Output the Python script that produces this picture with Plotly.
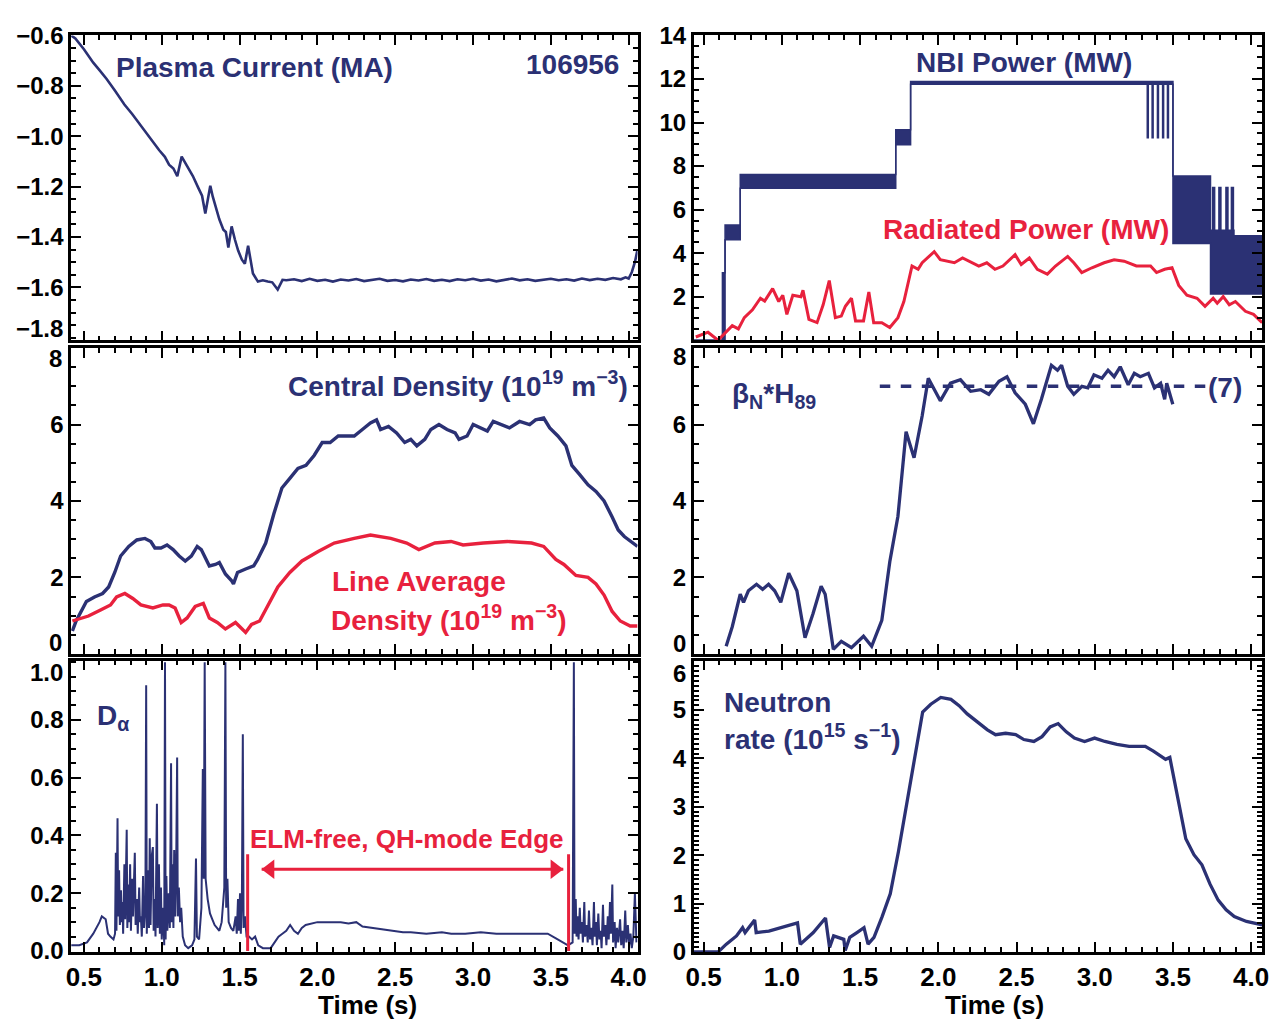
import plotly.graph_objects as go

# ---------------- data ----------------
shot_number = "106956"

# Plasma current (MA)
ip_time = [0.418, 0.445, 0.50, 0.56, 0.60, 0.646, 0.70, 0.76, 0.81, 0.857, 0.92, 0.984, 1.02, 1.047,
           1.075, 1.100, 1.128, 1.145, 1.164, 1.20, 1.235, 1.259, 1.280, 1.295, 1.312, 1.328, 1.343,
           1.370, 1.396, 1.412, 1.428, 1.449, 1.470, 1.491, 1.515, 1.534, 1.555, 1.570, 1.586, 1.618,
           1.650, 1.681, 1.71, 1.745, 1.776, 1.80, 1.85, 1.90, 1.95, 2.00, 2.05, 2.10, 2.15, 2.20,
           2.25, 2.30, 2.35, 2.40, 2.45, 2.50, 2.55, 2.60, 2.65, 2.70, 2.75, 2.80, 2.85, 2.90, 2.95,
           3.00, 3.05, 3.10, 3.15, 3.20, 3.25, 3.30, 3.35, 3.40, 3.45, 3.50, 3.55, 3.60, 3.65, 3.70,
           3.75, 3.80, 3.85, 3.90, 3.95, 3.98, 4.00, 4.02, 4.04, 4.057]
ip_MA = [-0.600, -0.612, -0.655, -0.708, -0.738, -0.773, -0.820, -0.874, -0.912, -0.952, -1.006,
         -1.056, -1.082, -1.113, -1.128, -1.159, -1.081, -1.100, -1.122, -1.158, -1.205, -1.236,
         -1.307, -1.250, -1.197, -1.240, -1.274, -1.330, -1.371, -1.380, -1.442, -1.358, -1.410,
         -1.454, -1.490, -1.506, -1.435, -1.490, -1.545, -1.577, -1.572, -1.577, -1.580, -1.609,
         -1.570, -1.572, -1.568, -1.575, -1.566, -1.574, -1.570, -1.577, -1.569, -1.573, -1.567,
         -1.575, -1.570, -1.566, -1.574, -1.571, -1.576, -1.569, -1.573, -1.567, -1.574, -1.570,
         -1.575, -1.568, -1.572, -1.566, -1.573, -1.569, -1.576, -1.570, -1.565, -1.572, -1.568,
         -1.574, -1.570, -1.566, -1.572, -1.568, -1.573, -1.565, -1.571, -1.566, -1.570, -1.563,
         -1.568, -1.560, -1.565, -1.540, -1.500, -1.450]

# NBI power (MW): step segments, lower / upper edge of the modulation band
nbi_time = [0.437, 0.620, 0.637, 0.734, 1.728, 1.823, 3.500, 3.740, 3.890, 4.070]
nbi_low = [0.0, 0.0, 4.62, 6.98, 8.98, 11.76, 4.45, 2.12, 2.12, 2.12]
nbi_high = [0.0, 3.1, 5.29, 7.61, 9.67, 11.88, 7.55, 5.05, 4.80, 4.80]
nbi_dip_time = [3.339, 3.370, 3.404, 3.437, 3.468]
nbi_dip_low, nbi_dip_high = 9.27, 11.82
nbi_spike_time = [3.760, 3.800, 3.845, 3.880]
nbi_spike_low, nbi_spike_high = 5.05, 7.05

# Radiated power (MW)
prad_time = [0.450, 0.528, 0.592, 0.631, 0.683, 0.722, 0.760, 0.812, 0.863, 0.890, 0.941, 0.980,
             1.006, 1.032, 1.070, 1.122, 1.135, 1.173, 1.225, 1.264, 1.303, 1.342, 1.380, 1.406,
             1.445, 1.471, 1.522, 1.556, 1.587, 1.639, 1.690, 1.742, 1.780, 1.832, 1.871, 1.897,
             1.974, 2.013, 2.103, 2.155, 2.259, 2.310, 2.362, 2.413, 2.491, 2.530, 2.582, 2.633,
             2.697, 2.749, 2.827, 2.866, 2.917, 2.982, 3.060, 3.124, 3.188, 3.266, 3.357, 3.395,
             3.447, 3.494, 3.537, 3.589, 3.654, 3.705, 3.757, 3.783, 3.821, 3.860, 3.899, 3.963,
             4.015, 4.070]
prad_MW = [0.15, 0.37, 0.00, 0.30, 0.67, 0.52, 1.04, 1.40, 1.93, 1.80, 2.37, 1.78, 2.07, 1.19,
           2.07, 2.00, 2.30, 0.96, 0.81, 1.63, 2.74, 1.04, 1.11, 1.56, 1.93, 0.89, 0.89, 2.22,
           0.81, 0.81, 0.59, 1.04, 1.78, 3.41, 3.26, 3.56, 4.07, 3.70, 3.56, 3.78, 3.41, 3.56,
           3.26, 3.41, 3.93, 3.48, 3.78, 3.26, 3.04, 3.41, 3.85, 3.56, 3.11, 3.33, 3.56, 3.70,
           3.63, 3.41, 3.41, 3.11, 3.26, 3.33, 2.52, 2.07, 1.93, 1.56, 1.93, 1.70, 2.00, 1.63,
           1.78, 1.33, 1.19, 0.81]

# Central density (1e19 m^-3)
ne0_time = [0.426, 0.45, 0.516, 0.568, 0.620, 0.659, 0.698, 0.736, 0.788, 0.840, 0.892, 0.930,
            0.956, 0.995, 1.034, 1.073, 1.112, 1.151, 1.190, 1.228, 1.254, 1.306, 1.345, 1.370,
            1.409, 1.448, 1.461, 1.487, 1.539, 1.591, 1.616, 1.668, 1.720, 1.772, 1.823, 1.875,
            1.927, 1.979, 2.031, 2.082, 2.134, 2.186, 2.237, 2.289, 2.341, 2.380, 2.406, 2.457,
            2.509, 2.561, 2.600, 2.639, 2.690, 2.729, 2.781, 2.833, 2.885, 2.910, 2.962, 3.001,
            3.053, 3.092, 3.130, 3.182, 3.234, 3.299, 3.364, 3.402, 3.454, 3.493, 3.545, 3.597,
            3.635, 3.687, 3.739, 3.790, 3.842, 3.894, 3.933, 3.972, 4.024, 4.057]
ne0_val = [0.60, 0.86, 1.37, 1.49, 1.58, 1.75, 2.13, 2.56, 2.81, 2.98, 3.02, 2.94, 2.77, 2.77,
           2.85, 2.73, 2.56, 2.43, 2.56, 2.81, 2.73, 2.30, 2.34, 2.39, 2.09, 1.92, 1.83, 2.13,
           2.22, 2.30, 2.47, 2.90, 3.66, 4.34, 4.59, 4.85, 4.93, 5.19, 5.53, 5.53, 5.70, 5.70,
           5.70, 5.87, 6.04, 6.12, 5.87, 5.95, 5.78, 5.53, 5.61, 5.44, 5.61, 5.87, 6.00, 5.87,
           5.78, 5.61, 5.70, 6.00, 5.91, 5.83, 6.08, 6.00, 5.91, 6.08, 6.00, 6.12, 6.17, 5.91,
           5.70, 5.44, 4.93, 4.68, 4.42, 4.25, 4.00, 3.58, 3.24, 3.07, 2.90, 2.81]

# Line average density (1e19 m^-3)
nel_time = [0.426, 0.529, 0.607, 0.671, 0.710, 0.763, 0.814, 0.866, 0.943, 1.008, 1.047, 1.086,
            1.125, 1.163, 1.215, 1.267, 1.306, 1.357, 1.409, 1.474, 1.539, 1.577, 1.629, 1.694,
            1.746, 1.823, 1.901, 2.005, 2.108, 2.237, 2.341, 2.471, 2.574, 2.652, 2.755, 2.859,
            2.936, 3.066, 3.221, 3.376, 3.454, 3.532, 3.584, 3.661, 3.739, 3.790, 3.842, 3.894,
            3.946, 4.010, 4.057]
nel_val = [0.86, 0.99, 1.15, 1.28, 1.49, 1.58, 1.45, 1.28, 1.20, 1.28, 1.28, 1.20, 0.82, 0.94,
           1.24, 1.32, 0.94, 0.82, 0.65, 0.82, 0.56, 0.77, 0.86, 1.37, 1.75, 2.13, 2.43, 2.68,
           2.90, 3.02, 3.11, 3.02, 2.90, 2.73, 2.90, 2.94, 2.85, 2.90, 2.94, 2.90, 2.81, 2.47,
           2.34, 2.05, 2.00, 1.83, 1.54, 1.11, 0.86, 0.73, 0.73]

# beta_N * H89
bh_time = [0.644, 0.683, 0.734, 0.755, 0.786, 0.838, 0.877, 0.915, 0.954, 0.993, 1.044, 1.096,
           1.148, 1.199, 1.251, 1.277, 1.329, 1.380, 1.445, 1.522, 1.574, 1.639, 1.690, 1.742,
           1.794, 1.845, 1.897, 1.936, 2.013, 2.078, 2.142, 2.207, 2.271, 2.323, 2.388, 2.439,
           2.491, 2.556, 2.608, 2.659, 2.723, 2.762, 2.788, 2.827, 2.866, 2.918, 2.956, 2.995,
           3.046, 3.085, 3.124, 3.163, 3.214, 3.253, 3.291, 3.343, 3.382, 3.421, 3.447, 3.460,
           3.499]
bh_val = [0.20, 0.71, 1.56, 1.35, 1.65, 1.82, 1.69, 1.82, 1.65, 1.35, 2.11, 1.65, 0.42, 1.05,
          1.77, 1.56, 0.12, 0.33, 0.16, 0.46, 0.20, 0.88, 2.41, 3.60, 5.81, 5.13, 6.23, 7.21,
          6.62, 7.08, 7.17, 6.87, 6.91, 6.79, 7.13, 7.25, 6.83, 6.53, 6.02, 6.66, 7.55, 7.42,
          7.55, 7.00, 6.79, 7.00, 6.96, 7.30, 7.21, 7.42, 7.25, 7.51, 7.04, 7.34, 7.25, 7.34,
          6.96, 7.08, 6.66, 7.08, 6.53]
bh_target = 7.0
bh_target_time = [1.626, 3.720]

# D-alpha (a.u.)
da_time = [0.418, 0.47, 0.52, 0.56, 0.60, 0.615, 0.64, 0.655, 0.67, 0.69, 0.700, 0.705, 0.709,
           0.716, 0.720, 0.726, 0.731, 0.738, 0.742, 0.748, 0.752, 0.760, 0.765, 0.775, 0.779,
           0.786, 0.790, 0.797, 0.802, 0.810, 0.815, 0.827, 0.832, 0.840, 0.846, 0.855, 0.860,
           0.866, 0.872, 0.880, 0.886, 0.895, 0.900, 0.904, 0.912, 0.918, 0.923, 0.928, 0.936,
           0.943, 0.948, 0.955, 0.960, 0.969, 0.974, 0.982, 0.988, 0.995, 1.000, 1.010, 1.016,
           1.021, 1.025, 1.030, 1.036, 1.045, 1.052, 1.060, 1.064, 1.070, 1.075, 1.080, 1.086,
           1.092, 1.099, 1.103, 1.110, 1.118, 1.125, 1.135, 1.150, 1.170, 1.195, 1.210, 1.220,
           1.226, 1.240, 1.255, 1.264, 1.270, 1.276, 1.282, 1.295, 1.310, 1.325, 1.340, 1.355,
           1.370, 1.385, 1.395, 1.402, 1.409, 1.414, 1.422, 1.430, 1.445, 1.460, 1.475, 1.482,
           1.490, 1.496, 1.503, 1.508, 1.515, 1.521, 1.526, 1.535, 1.545, 1.560, 1.580, 1.600,
           1.620, 1.650, 1.700, 1.725, 1.750, 1.775, 1.800, 1.825, 1.850, 1.875, 1.900, 1.925,
           1.955, 2.000, 2.050, 2.100, 2.150, 2.200, 2.250, 2.290, 2.350, 2.400, 2.470, 2.550,
           2.600, 2.700, 2.800, 2.860, 2.950, 3.050, 3.150, 3.250, 3.350, 3.480, 3.530, 3.580,
           3.610, 3.640, 3.648, 3.652, 3.660, 3.665, 3.672, 3.678, 3.686, 3.692, 3.700, 3.706,
           3.715, 3.720, 3.730, 3.737, 3.745, 3.752, 3.760, 3.768, 3.777, 3.782, 3.790, 3.796,
           3.805, 3.812, 3.820, 3.826, 3.835, 3.841, 3.850, 3.857, 3.866, 3.872, 3.880, 3.886,
           3.895, 3.900, 3.910, 3.916, 3.925, 3.933, 3.945, 3.952, 3.960, 3.968, 3.978, 3.985,
           3.995, 4.003, 4.012, 4.020, 4.030, 4.040, 4.050]
da_val = [0.02, 0.02, 0.03, 0.06, 0.10, 0.12, 0.11, 0.06, 0.05, 0.04, 0.06, 0.34, 0.07, 0.46,
          0.12, 0.28, 0.09, 0.21, 0.10, 0.17, 0.06, 0.30, 0.11, 0.42, 0.08, 0.23, 0.10, 0.30,
          0.07, 0.25, 0.12, 0.34, 0.09, 0.18, 0.06, 0.22, 0.10, 0.12, 0.05, 0.26, 0.08, 0.15,
          0.92, 0.06, 0.28, 0.08, 0.39, 0.09, 0.33, 0.36, 0.07, 0.18, 0.05, 0.51, 0.08, 0.30,
          0.06, 0.22, 0.04, 0.15, 0.02, 1.00, 0.04, 0.26, 0.07, 0.20, 0.08, 0.65, 0.10, 0.30,
          0.08, 0.35, 0.12, 0.25, 0.67, 0.12, 0.22, 0.10, 0.15, 0.05, 0.02, 0.01, 0.02, 0.04,
          0.32, 0.05, 0.04, 0.15, 0.63, 0.25, 1.00, 0.25, 0.18, 0.13, 0.11, 0.09, 0.08, 0.07,
          0.10, 0.16, 0.22, 1.00, 0.15, 0.25, 0.10, 0.08, 0.07, 0.12, 0.06, 0.18, 0.07, 0.20,
          0.06, 0.18, 0.75, 0.08, 0.12, 0.05, 0.05, 0.04, 0.05, 0.02, 0.01, 0.01, 0.03, 0.05,
          0.06, 0.07, 0.09, 0.07, 0.06, 0.08, 0.09, 0.095, 0.10, 0.10, 0.10, 0.10, 0.095, 0.10,
          0.085, 0.08, 0.075, 0.07, 0.065, 0.065, 0.06, 0.065, 0.06, 0.06, 0.065, 0.06, 0.06,
          0.06, 0.06, 0.045, 0.03, 0.02, 0.03, 1.00, 0.06, 0.18, 0.05, 0.12, 0.04, 0.15, 0.06,
          0.10, 0.03, 0.17, 0.05, 0.09, 0.03, 0.14, 0.04, 0.08, 0.02, 0.17, 0.05, 0.10, 0.02,
          0.13, 0.04, 0.07, 0.01, 0.16, 0.05, 0.09, 0.02, 0.12, 0.04, 0.17, 0.06, 0.23, 0.03,
          0.10, 0.01, 0.08, 0.03, 0.11, 0.02, 0.07, 0.01, 0.14, 0.03, 0.09, 0.02, 0.06, 0.01,
          0.05, 0.20, 0.03]
elm_free_start, elm_free_end = 1.552, 3.614
elm_marker_height = 0.335
elm_arrow_level = 0.283
elm_arrow_ends = [1.642, 3.580]

# Neutron rate (1e15 /s)
nr_time = [0.438, 0.593, 0.645, 0.710, 0.749, 0.765, 0.826, 0.836, 0.917, 0.994, 1.072, 1.100,
           1.118, 1.201, 1.279, 1.305, 1.331, 1.396, 1.405, 1.434, 1.480, 1.525, 1.551, 1.589,
           1.641, 1.693, 1.745, 1.796, 1.848, 1.900, 1.952, 2.016, 2.081, 2.133, 2.185, 2.249,
           2.314, 2.366, 2.430, 2.495, 2.547, 2.611, 2.663, 2.715, 2.766, 2.818, 2.870, 2.935,
           2.999, 3.065, 3.142, 3.220, 3.323, 3.375, 3.453, 3.480, 3.504, 3.543, 3.582, 3.634,
           3.685, 3.737, 3.789, 3.840, 3.892, 3.970, 4.070]
nr_val = [0.00, 0.00, 0.16, 0.33, 0.50, 0.40, 0.66, 0.40, 0.43, 0.50, 0.56, 0.60, 0.16, 0.40,
          0.70, 0.09, 0.33, 0.26, 0.03, 0.30, 0.40, 0.50, 0.16, 0.30, 0.73, 1.20, 2.07, 3.01,
          3.95, 4.96, 5.12, 5.26, 5.22, 5.09, 4.92, 4.76, 4.59, 4.49, 4.52, 4.49, 4.39, 4.35,
          4.45, 4.65, 4.72, 4.55, 4.42, 4.35, 4.42, 4.35, 4.29, 4.25, 4.25, 4.15, 3.98, 4.02,
          3.61, 2.94, 2.34, 2.01, 1.80, 1.40, 1.07, 0.87, 0.73, 0.63, 0.56]

# Axis tick values (labels at the crowded panel ends are written separately)
ip_ticks = [-1.8, -1.6, -1.4, -1.2, -1.0, -0.8, -0.6]
nbi_ticks = [0, 2, 4, 6, 8, 10, 12, 14]
dens_ticks = [0, 2, 4, 6, 8]
bh_ticks = [0, 2, 4, 6, 8]
da_ticks = [0.0, 0.2, 0.4, 0.6, 0.8, 1.0]
nr_ticks = [0, 1, 2, 3, 4, 5, 6]
time_ticks = [0.5, 1.0, 1.5, 2.0, 2.5, 3.0, 3.5, 4.0]

# ---------------- styling / layout ----------------
W, H = 1281, 1036
NAVY = '#2b3174'
RED = '#e8213d'
LABEL_FONT = 'Liberation Sans, Arial, sans-serif'
TICK_FONT = 'Liberation Sans, Arial, sans-serif'


def fx(px):
    return px / W


def fy(py):
    return 1 - py / H


def fmt(v, dec):
    s = f'{v:.{dec}f}'
    return s.replace('-', '−')


COLS = {'L': (64, 638), 'R': (695, 1271)}
ROWS = {1: (22, 335), 2: (343, 657), 3: (664, 963)}
XRANGE = {'L': [0.418, 4.057], 'R': [0.437, 4.07]}

# hand: tick values whose label is placed by hand (ends of stacked panels)
panels = {
    1: dict(col='L', row=1, yrange=[-1.81, -0.6], ticks=ip_ticks, dec=1, minor=0.05, hand=[-1.8]),
    2: dict(col='R', row=1, yrange=[0.0, 14.0], ticks=nbi_ticks, dec=0, minor=0.5, hand=[0]),
    3: dict(col='L', row=2, yrange=[0, 8], ticks=dens_ticks, dec=0, minor=0.5, hand=[0, 8]),
    4: dict(col='R', row=2, yrange=[0, 8], ticks=bh_ticks, dec=0, minor=0.5, hand=[0, 8]),
    5: dict(col='L', row=3, yrange=[-0.003, 1.005], ticks=da_ticks, dec=1, minor=0.05, hand=[1.0]),
    6: dict(col='R', row=3, yrange=[0, 6.02], ticks=nr_ticks, dec=0, minor=0.1, hand=[6]),
}

layout = dict(
    width=W, height=H, margin=dict(l=0, r=0, t=0, b=0),
    paper_bgcolor='white', plot_bgcolor='white', showlegend=False,
)

for k, p in panels.items():
    sfx = '' if k == 1 else str(k)
    c0, c1 = COLS[p['col']]
    r0, r1 = ROWS[p['row']]
    common = dict(showline=True, linecolor='black', linewidth=2.5, mirror='allticks',
                  ticks='inside', ticklen=10, tickwidth=2, tickcolor='black',
                  showgrid=False, zeroline=False, fixedrange=True)
    layout['xaxis' + sfx] = dict(
        common, domain=[fx(c0), fx(c1)], range=XRANGE[p['col']], anchor='y' + sfx,
        tickmode='array', tickvals=time_ticks, ticktext=[fmt(v, 1) for v in time_ticks],
        minor=dict(ticks='inside', ticklen=5, tickwidth=1.5, tickcolor='black', dtick=0.1, tick0=0),
        showticklabels=(p['row'] == 3),
        tickfont=dict(family=TICK_FONT, size=26, color='black', weight='bold'),
    )
    yt = [v for v in p['ticks'] if v not in p['hand']]
    layout['yaxis' + sfx] = dict(
        common, domain=[fy(r1), fy(r0)], range=p['yrange'], anchor='x' + sfx,
        tickmode='array', tickvals=yt, ticktext=[fmt(v, p['dec']) for v in yt],
        minor=dict(ticks='inside', ticklen=5, tickwidth=1.5, tickcolor='black', dtick=p['minor'], tick0=0),
        tickfont=dict(family=TICK_FONT, size=24, color='black', weight='bold'),
    )

fig = go.Figure(layout=layout)


def add_line(x, y, k, color, width, **kw):
    sfx = '' if k == 1 else str(k)
    fig.add_trace(go.Scatter(x=x, y=y, xaxis='x' + sfx, yaxis='y' + sfx, mode='lines',
                             line=dict(color=color, width=width, **kw.pop('line', {})),
                             hoverinfo='skip', **kw))


# Panel 1: plasma current
add_line(ip_time, ip_MA, 1, NAVY, 2.6)

# Panel 2: NBI power band + radiated power
add_line(nbi_time, nbi_low, 2, NAVY, 1.5, line=dict(shape='hv'))
add_line(nbi_time, nbi_high, 2, NAVY, 1.5, line=dict(shape='hv'), fill='tonexty', fillcolor=NAVY)
dip_x, dip_y = [], []
for t in nbi_dip_time:
    dip_x += [t, t, None]
    dip_y += [nbi_dip_low, nbi_dip_high, None]
add_line(dip_x, dip_y, 2, NAVY, 2.5)
sp_x, sp_y = [], []
for t in nbi_spike_time:
    sp_x += [t, t, None]
    sp_y += [nbi_spike_low, nbi_spike_high, None]
add_line(sp_x, sp_y, 2, NAVY, 3.5)
add_line(prad_time, prad_MW, 2, RED, 3)

# Panel 3: densities
add_line(ne0_time, ne0_val, 3, NAVY, 3.4)
add_line(nel_time, nel_val, 3, RED, 3.4)

# Panel 4: betaN*H89
add_line(bh_target_time, [bh_target, bh_target], 4, NAVY, 3.5, line=dict(dash='dash'))
add_line(bh_time, bh_val, 4, NAVY, 3.3)

# Panel 5: D-alpha
add_line(da_time, da_val, 5, NAVY, 2)
add_line([elm_free_start, elm_free_start, None, elm_free_end, elm_free_end],
         [0, elm_marker_height, None, 0, elm_marker_height], 5, RED, 3)

# double-headed ELM-free arrow: shaft plus two arrow heads drawn as markers
HEAD_SIZE = 17
px_per_s = (COLS['L'][1] - COLS['L'][0]) / (XRANGE['L'][1] - XRANGE['L'][0])
head_shift = (HEAD_SIZE / 2) / px_per_s
add_line(elm_arrow_ends, [elm_arrow_level] * 2, 5, RED, 3)
fig.add_trace(go.Scatter(x=[elm_arrow_ends[0] + head_shift, elm_arrow_ends[1] - head_shift],
                         y=[elm_arrow_level] * 2, xaxis='x5', yaxis='y5', mode='markers',
                         marker=dict(symbol=['triangle-left', 'triangle-right'], size=HEAD_SIZE,
                                     color=RED, line=dict(width=0)),
                         hoverinfo='skip'))

# Panel 6: neutron rate
add_line(nr_time, nr_val, 6, NAVY, 3.3)

# ---------------- text ----------------
annotations = []


def label(text, px, py, color=NAVY, size=28, xanchor='left', yanchor='middle', family=LABEL_FONT):
    annotations.append(dict(text='<b>' + text + '</b>', x=fx(px), y=fy(py), xref='paper', yref='paper',
                            xanchor=xanchor, yanchor=yanchor, showarrow=False,
                            font=dict(family=family, size=size, color=color)))


label('Plasma Current (MA)', 107, 55)
label(shot_number, 621, 52, xanchor='right')
label('NBI Power (MW)', 1030, 50, xanchor='center')
label('Radiated Power (MW)', 1032, 221, color=RED, xanchor='center')
label('Central Density (10<sup>19</sup> m<sup>−3</sup>)', 630, 380, xanchor='right')
label('Line Average', 326, 583, color=RED)
label('Density (10<sup>19</sup> m<sup>−3</sup>)', 325, 620, color=RED)
label('β<sub>N</sub>*H<sub>89</sub>', 732, 392)
label('(7)', 1214, 383)
label('D<sub>α</sub>', 88, 722)
label('ELM-free, QH-mode Edge', 404, 847, color=RED, size=26, xanchor='center')
label('Neutron', 724, 707)
label('rate (10<sup>15</sup> s<sup>−1</sup>)', 724, 742)
label('Time (s)', 364, 1018, color='black', size=26, xanchor='center')
label('Time (s)', 1000, 1018, color='black', size=26, xanchor='center')

# hand-placed end labels of stacked panels (shifted inward as in the reference)
end_labels = [(fmt(-1.8, 1), 58, 323), (fmt(8, 0), 57, 354), (fmt(0, 0), 57, 645),
              (fmt(1.0, 1), 58, 676), (fmt(8, 0), 689, 352), (fmt(0, 0), 689, 646),
              (fmt(6, 0), 689, 677)]
for txt, px, py in end_labels:
    label(txt, px, py, color='black', size=24, xanchor='right', family=TICK_FONT)

fig.update_layout(annotations=annotations)
fig.write_html('out.html')
